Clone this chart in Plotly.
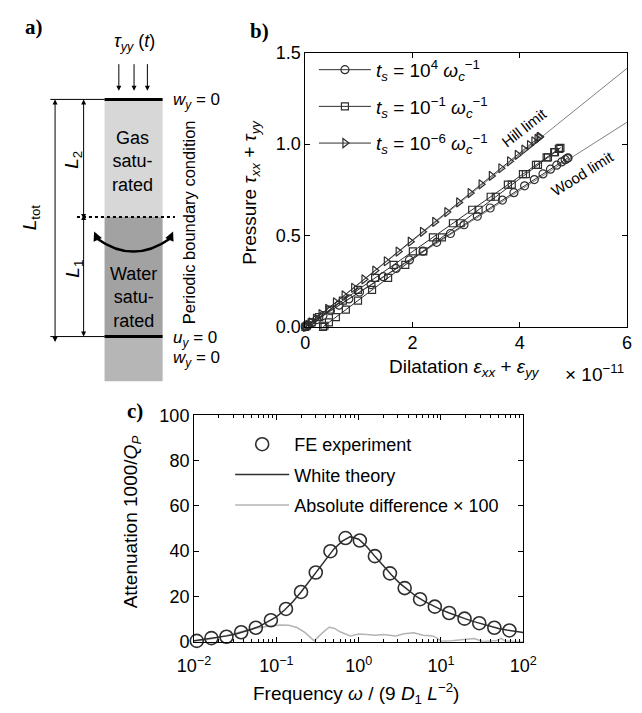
import plotly.graph_objects as go

W, H = 642, 713

# ---------------- Panel b data (dilatation in units of 1e-11) ----------------
circ_dil = [0, 0.013, 0.054, 0.120, 0.212, 0.328, 0.468, 0.629, 0.811, 1.010, 1.225,
            1.453, 1.693, 1.941, 2.194, 2.450, 2.706, 2.959, 3.207, 3.447, 3.675,
            3.890, 4.089, 4.271, 4.432, 4.572, 4.688, 4.780, 4.846, 4.887, 4.900]
circ_p = [0, 0.0025, 0.0101, 0.0226, 0.0400, 0.0620, 0.0883, 0.1188, 0.1530, 0.1907, 0.2313,
          0.2744, 0.3196, 0.3663, 0.4142, 0.4625, 0.5108, 0.5587, 0.6054, 0.6506, 0.6938,
          0.7343, 0.7720, 0.8062, 0.8367, 0.8630, 0.8850, 0.9024, 0.9149, 0.9225, 0.925]

sq_dil = [0, 0.029, 0.117, 0.257, 0.456, 0.699, 0.981, 1.301, 1.646, 2.005, 2.379,
          2.752, 3.112, 3.456, 3.777, 4.058, 4.301, 4.500, 4.641, 4.728, 4.757,
          4.737, 4.656, 4.525, 4.339, 4.113, 3.850, 3.552, 3.230, 2.896, 2.547,
          2.199, 1.864, 1.543, 1.244, 0.982, 0.755, 0.570, 0.439, 0.357, 0.330]
sq_p = [0, 0.006, 0.024, 0.053, 0.094, 0.144, 0.202, 0.268, 0.339, 0.413, 0.490,
        0.567, 0.641, 0.712, 0.778, 0.836, 0.886, 0.927, 0.956, 0.974, 0.980,
        0.974, 0.956, 0.927, 0.886, 0.836, 0.778, 0.712, 0.641, 0.567, 0.490,
        0.413, 0.339, 0.268, 0.202, 0.144, 0.094, 0.053, 0.024, 0.006, 0.0]

tri_dil = [0, 0.012, 0.048, 0.107, 0.189, 0.293, 0.417, 0.561, 0.723, 0.901, 1.093,
           1.296, 1.510, 1.731, 1.957, 2.185, 2.413, 2.639, 2.860, 3.074, 3.278,
           3.469, 3.647, 3.809, 3.953, 4.077, 4.181, 4.263, 4.322, 4.358, 4.370]
tri_p = [0, 0.003, 0.011, 0.025, 0.045, 0.070, 0.099, 0.134, 0.172, 0.214, 0.260,
         0.308, 0.359, 0.412, 0.466, 0.520, 0.574, 0.628, 0.681, 0.732, 0.780,
         0.826, 0.868, 0.906, 0.941, 0.970, 0.995, 1.015, 1.029, 1.037, 1.040]

hill_dil = [0, 6.0]
hill_p = [0, 1.415]
wood_dil = [0, 6.0]
wood_p = [0, 1.12]

b_xticks = [0, 2, 4, 6]
b_yticks = [0, 0.5, 1.0, 1.5]
b_yticklabels = ["0.0", "0.5", "1.0", "1.5"]

# ---------------- Panel c data ----------------
fe_freq = [0.0108, 0.01626, 0.02477, 0.03741, 0.05636, 0.0859, 0.1309, 0.1995, 0.3013,
           0.4539, 0.6918, 1.033, 1.574, 2.399, 3.622, 5.572, 8.414, 12.56, 19.32,
           29.17, 44.46, 67.76]
fe_att = [0.4, 1.6, 2.2, 4.2, 6.2, 9.5, 14.5, 22.0, 30.6, 40.0, 45.8, 44.7, 37.8, 30.2,
          23.7, 18.8, 15.5, 12.7, 10.2, 8.2, 6.2, 5.0]

white_freq = [0.01, 0.01259, 0.01585, 0.01995, 0.02512, 0.03162, 0.03981, 0.05012, 0.0631,
              0.07943, 0.1, 0.1259, 0.1585, 0.1995, 0.2512, 0.3162, 0.3981, 0.5012, 0.631,
              0.7943, 1.0, 1.259, 1.585, 1.995, 2.512, 3.162, 3.981, 5.012, 6.31, 7.943,
              10.0, 12.59, 15.85, 19.95, 25.12, 31.62, 39.81, 50.12, 63.1, 79.43, 100.0]
white_att = [0.4, 0.9, 1.4, 2.0, 2.6, 3.3, 4.3, 5.5, 6.9, 8.8, 11.0, 14.0, 17.7, 22.0,
             26.7, 31.6, 36.6, 41.0, 44.4, 46.4, 45.3, 42.0, 37.6, 33.3, 29.5, 25.8, 22.7,
             20.0, 17.8, 15.9, 14.2, 12.7, 11.3, 10.1, 8.9, 7.8, 6.8, 5.9, 5.2, 4.6, 4.1]

diff_freq = [0.01, 0.0158, 0.0251, 0.0355, 0.0501, 0.0794, 0.1122, 0.1413, 0.1778, 0.2239,
             0.2884, 0.3548, 0.4365, 0.5012, 0.6026, 0.7943, 1.0, 1.259, 1.585, 1.995,
             2.512, 2.818, 3.548, 4.677, 6.026, 7.943, 8.913, 10.23, 13.49, 19.05, 25.12,
             32.36, 39.81, 46.77, 53.70, 60.26, 79.43, 100.0]
diff_att = [0.2, 1.2, 2.8, 4.3, 5.7, 6.9, 7.4, 7.3, 6.3, 4.0, 0.4, 3.6, 6.4, 6.0, 4.3,
            2.6, 3.4, 3.2, 2.9, 3.2, 2.9, 2.6, 3.5, 4.0, 2.9, 2.6, 1.6, 0.2, 0.4, 0.8,
            1.4, 0.1, 0.2, 0.4, 1.5, 0.3, 0.1, 0.0]

c_xticks = [0.01, 0.1, 1, 10, 100]
c_xticklabels = ["10<sup>−2</sup>", "10<sup>−1</sup>", "10<sup>0</sup>", "10<sup>1</sup>", "10<sup>2</sup>"]
c_yticks = [0, 20, 40, 60, 80, 100]
c_minor = [m * 10 ** e for e in (-2, -1, 0, 1) for m in range(2, 10)]

FONT = "Liberation Sans, Arial, sans-serif"
SERIF = "Liberation Serif, Times New Roman, serif"
DARK = "#2e2e2e"


def X(px):
    return px / W


def Y(py):
    return 1 - py / H


fig = go.Figure()

# ---- panel b traces ----
fig.add_trace(go.Scatter(x=hill_dil, y=hill_p, mode="lines", line=dict(color="#808080", width=1),
                         showlegend=False, hoverinfo="skip", xaxis="x", yaxis="y"))
fig.add_trace(go.Scatter(x=wood_dil, y=wood_p, mode="lines", line=dict(color="#808080", width=1),
                         showlegend=False, hoverinfo="skip", xaxis="x", yaxis="y"))
fig.add_trace(go.Scatter(x=circ_dil, y=circ_p, mode="lines+markers",
                         name="<i>t</i><sub><i>s</i></sub> = 10<sup>4</sup> <i>ω</i><sub><i>c</i></sub><sup>−1</sup>",
                         line=dict(color=DARK, width=1),
                         marker=dict(symbol="circle-open", size=8, color=DARK, line=dict(width=1.2)),
                         cliponaxis=False, legendgroup="a", legendrank=1, legend="legend",
                         xaxis="x", yaxis="y"))
fig.add_trace(go.Scatter(x=sq_dil, y=sq_p, mode="lines+markers",
                         name="<i>t</i><sub><i>s</i></sub> = 10<sup>−1</sup> <i>ω</i><sub><i>c</i></sub><sup>−1</sup>",
                         line=dict(color=DARK, width=1),
                         marker=dict(symbol="square-open", size=7, color=DARK, line=dict(width=1.2)),
                         cliponaxis=False, legendgroup="b", legendrank=2, legend="legend",
                         xaxis="x", yaxis="y"))
fig.add_trace(go.Scatter(x=tri_dil, y=tri_p, mode="lines+markers",
                         name="<i>t</i><sub><i>s</i></sub> = 10<sup>−6</sup> <i>ω</i><sub><i>c</i></sub><sup>−1</sup>",
                         line=dict(color=DARK, width=1),
                         marker=dict(symbol="triangle-right-open", size=8, color=DARK, line=dict(width=1.2)),
                         cliponaxis=False, legendgroup="c", legendrank=3, legend="legend",
                         xaxis="x", yaxis="y"))

# ---- panel c traces ----
fig.add_trace(go.Scatter(x=diff_freq, y=diff_att, mode="lines", name="Absolute difference × 100",
                         line=dict(color="#b4b4b4", width=1.5), legend="legend2", legendrank=3,
                         legendgroup="z", xaxis="x2", yaxis="y2"))
fig.add_trace(go.Scatter(x=white_freq, y=white_att, mode="lines", name="White theory",
                         line=dict(color=DARK, width=1.5), legend="legend2", legendrank=2,
                         legendgroup="y", xaxis="x2", yaxis="y2"))
fig.add_trace(go.Scatter(x=fe_freq, y=fe_att, mode="markers", name="FE experiment",
                         marker=dict(symbol="circle-open", size=13, color=DARK, line=dict(color=DARK, width=1.6)),
                         cliponaxis=False, legend="legend2", legendrank=1, legendgroup="x",
                         xaxis="x2", yaxis="y2"))

axis_common = dict(showline=True, linecolor="black", linewidth=1, mirror="ticks", ticks="inside",
                   ticklen=5, tickcolor="black", showgrid=False, zeroline=False,
                   tickfont=dict(family=FONT, size=18, color="black"))

fig.update_layout(
    width=W, height=H, margin=dict(l=0, r=0, t=0, b=0),
    paper_bgcolor="white", plot_bgcolor="white",
    font=dict(family=FONT, size=18, color="black"),
    xaxis=dict(domain=[X(303), X(641)], range=[0, 6], tickvals=b_xticks, anchor="y", **axis_common),
    yaxis=dict(domain=[Y(326), Y(44)], range=[0, 1.5], tickvals=b_yticks, ticktext=b_yticklabels,
               anchor="x", **axis_common),
    xaxis2=dict(domain=[X(186), X(532)], type="log", range=[-2, 2], tickvals=c_xticks,
                ticktext=c_xticklabels, anchor="y2", ticklabelstandoff=8,
                minor=dict(tickvals=c_minor, ticks="inside", ticklen=3, tickcolor="black"),
                **axis_common),
    yaxis2=dict(domain=[Y(650), Y(417)], range=[0, 100], tickvals=c_yticks, anchor="x2", **axis_common),
    legend=dict(x=X(312), y=Y(42), xanchor="left", yanchor="top", bgcolor="rgba(0,0,0,0)",
                itemwidth=52, font=dict(family=FONT, size=19), tracegroupgap=9,
                traceorder="grouped"),
    legend2=dict(x=X(224), y=Y(428), xanchor="left", yanchor="top", bgcolor="rgba(0,0,0,0)",
                 itemwidth=54, font=dict(family=FONT, size=18), tracegroupgap=4,
                 traceorder="grouped"),
    showlegend=True,
)

shapes = []
ann = []


def line(x0, y0, x1, y1, width=1, dash=None, color="black"):
    d = dict(type="line", xref="paper", yref="paper", x0=X(x0), y0=Y(y0), x1=X(x1), y1=Y(y1),
             line=dict(color=color, width=width))
    if dash:
        d["line"]["dash"] = dash
    shapes.append(d)


def rect(x0, y0, x1, y1, fill):
    shapes.append(dict(type="rect", xref="paper", yref="paper", x0=X(x0), y0=Y(y1), x1=X(x1), y1=Y(y0),
                       fillcolor=fill, line=dict(width=0), layer="below"))


def text(x, y, s, size=16, xanchor="center", angle=0, family=FONT, yanchor="middle"):
    ann.append(dict(x=X(x), y=Y(y), xref="paper", yref="paper", text=s, showarrow=False,
                    xanchor=xanchor, yanchor=yanchor, textangle=angle,
                    font=dict(family=family, size=size, color="black")))


def arrow(xh, yh, xt, yt, both=False, width=1, head=2, size=1.0):
    ann.append(dict(x=X(xh), y=Y(yh), xref="paper", yref="paper", ax=xt - xh, ay=yt - yh,
                    axref="pixel", ayref="pixel", text="", showarrow=True, arrowhead=head,
                    arrowsize=size, arrowwidth=width, arrowcolor="black",
                    arrowside="end+start" if both else "end", startarrowhead=head,
                    startarrowsize=size, standoff=0, startstandoff=0))


# ---- panel a diagram ----
rect(92, 92, 153, 213, "#d7d7d7")
rect(92, 213, 153, 336, "#a2a2a2")
rect(92, 336, 153, 382, "#b6b6b6")
line(92, 92, 153, 92, width=3)
line(92, 336, 153, 336, width=3)
line(35, 92, 92, 92)
line(35, 336, 92, 336)
line(63, 213, 166, 213, width=2, dash="dot")
arrow(40, 92, 40, 336, both=True)
arrow(70, 92, 70, 213, both=True)
arrow(70, 336, 70, 213, both=True)
for ax_ in (107, 123, 137):
    arrow(ax_, 83, ax_, 55)
# curved double arrow
p0 = (84, 235)
pc = (122, 262)
p1 = (161, 235)
shapes.append(dict(type="path", xref="paper", yref="paper",
                   path="M {},{} Q {},{} {},{}".format(X(p0[0]), Y(p0[1]), X(pc[0]), Y(pc[1]), X(p1[0]), Y(p1[1])),
                   line=dict(color="black", width=2.5)))
arrow(81, 228, 85, 237, width=2, head=2, size=0.9)
arrow(164, 228, 160, 237, width=2, head=2, size=0.9)

text(6, 18, "<b>a)</b>", size=21, xanchor="left", family=SERIF)
text(123, 33, "<i>τ</i><sub><i>yy</i></sub> (<i>t</i>)", size=18)
text(162, 94, "<i>w</i><sub><i>y</i></sub> = 0", size=17, xanchor="left")
text(162, 339, "<i>u</i><sub><i>y</i></sub> = 0", size=17, xanchor="left")
text(162, 359, "<i>w</i><sub><i>y</i></sub> = 0", size=17, xanchor="left")
text(121, 156, "Gas<br>satu-<br>rated", size=18)
text(122, 296, "Water<br>satu-<br>rated", size=18)
text(15, 213, "<i>L</i><sub>tot</sub>", size=19, angle=-90)
text(59, 154, "<i>L</i><sub>2</sub>", size=19, angle=-90)
text(59, 266, "<i>L</i><sub>1</sub>", size=19, angle=-90)
text(181, 218, "Periodic boundary condition", size=16.5, angle=-90)

# ---- panel b labels ----
text(243, 22, "<b>b)</b>", size=21, xanchor="left", family=SERIF)
text(246, 188, "Pressure <i>τ</i><sub><i>xx</i></sub> + <i>τ</i><sub><i>yy</i></sub>", size=19, angle=-90)
text(470, 368, "Dilatation <i>ε</i><sub><i>xx</i></sub> + <i>ε</i><sub><i>yy</i></sub>", size=19)
text(607, 373, "× 10<sup>−11</sup>", size=19)
text(533, 121, "Hill limit", size=15, angle=-38)
text(594, 168, "Wood limit", size=15, angle=-32)

# ---- panel c labels ----
text(114, 413, "<b>c)</b>", size=21, xanchor="left", family=SERIF)
text(121, 527, "Attenuation 1000/<i>Q</i><sub><i>P</i></sub>", size=19, angle=-90)
text(356, 703, "Frequency <i>ω</i> / (9 <i>D</i><sub>1</sub> <i>L</i><sup>−2</sup>)", size=19)

fig.update_layout(shapes=shapes, annotations=ann)
fig.write_html("out.html")
